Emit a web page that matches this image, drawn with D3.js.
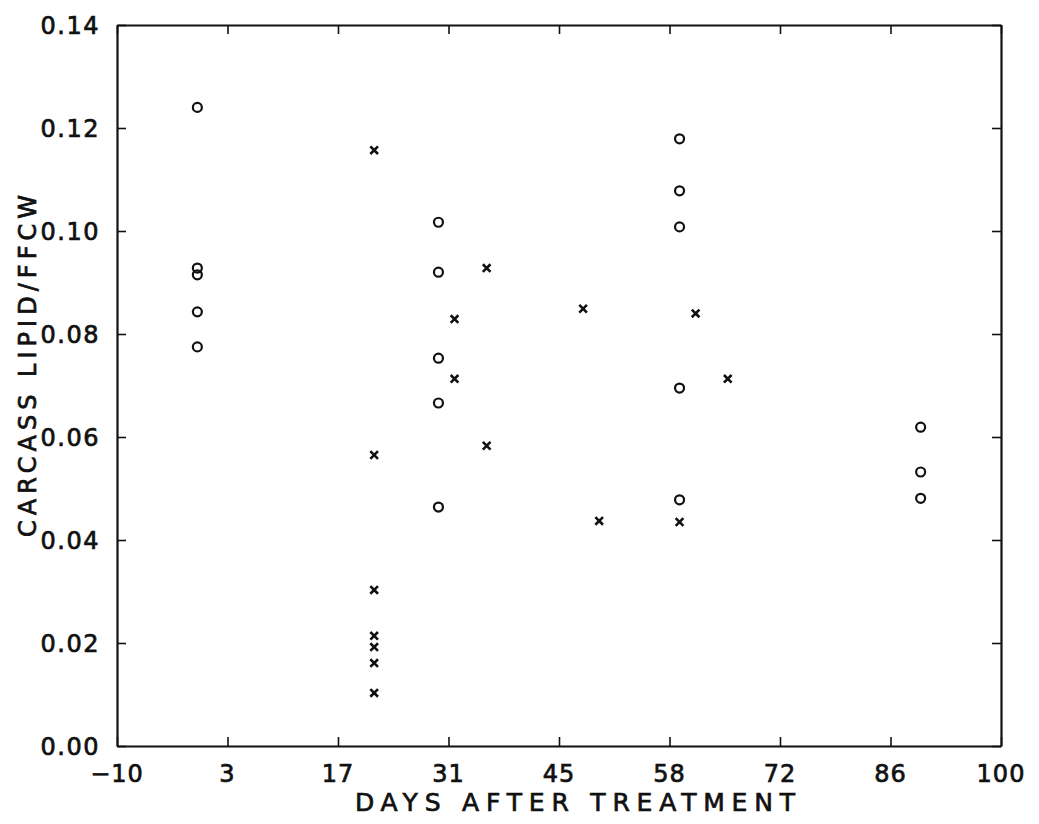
<!DOCTYPE html>
<html>
<head>
<meta charset="utf-8">
<script src="https://cdn.jsdelivr.net/npm/d3@7"></script>
<style>
    body { margin: 0; background: #fff; }
    svg { display: block; }
    text { font-family: "DejaVu Sans", sans-serif; fill: #111; stroke: #111; stroke-width: 0.7px; }
</style>
</head>
<body>
<svg id="chart" width="1039" height="824"></svg>
<script>
// data
const circleDays = [0, 0, 0, 0, 0, 30, 30, 30, 30, 30, 60, 60, 60, 60, 60, 90, 90, 90];
const circleValues = [0.124, 0.0928, 0.0915, 0.0843, 0.0775,
    0.1017, 0.092, 0.0753, 0.0666, 0.0464,
    0.1179, 0.1078, 0.1008, 0.0695, 0.0478,
    0.0619, 0.0532, 0.0481];

const crossDays = [22, 22, 22, 22, 22, 22, 22, 32, 32, 36, 36, 48, 50, 60, 62, 66];
const crossValues = [0.1157, 0.0565, 0.0303, 0.0214, 0.0192, 0.0161, 0.0103,
    0.0829, 0.0713, 0.0928, 0.0583, 0.0849, 0.0437, 0.0435, 0.084, 0.0713];

// the axis is linear -10..100, ticks every 13.75, labels truncated
const xTickValues = [-10, 3.75, 17.5, 31.25, 45, 58.75, 72.5, 86.25, 100];
const xTickLabels = ['\u221210', '3', '17', '31', '45', '58', '72', '86', '100'];
const yTickValues = [0, 0.02, 0.04, 0.06, 0.08, 0.10, 0.12, 0.14];

const xTitle = 'DAYS AFTER TREATMENT';
const yTitle = 'CARCASS LIPID/FFCW';

const margin = { left: 117, top: 25, right: 1001, bottom: 746 };
const svg = d3.select('#chart');
const ink = '#111';

const x = d3.scaleLinear().domain([-10, 100]).range([margin.left, margin.right]);
const y = d3.scaleLinear().domain([0, 0.14]).range([margin.bottom, margin.top]);

// frame + ticks (all inward)
const axes = [
    [d3.axisBottom(x), `translate(0,${margin.bottom})`, xTickValues],
    [d3.axisTop(x), `translate(0,${margin.top})`, xTickValues],
    [d3.axisLeft(y), `translate(${margin.left},0)`, yTickValues],
    [d3.axisRight(y), `translate(${margin.right},0)`, yTickValues],
];
axes.forEach(([ax, tr, vals]) => {
    const g = svg.append('g')
        .attr('transform', tr)
        .call(ax.tickValues(vals).tickSizeInner(-9).tickSizeOuter(0).tickFormat(''));
    g.select('.domain').attr('stroke', ink).attr('stroke-width', 2.2);
    g.selectAll('.tick line').attr('stroke', ink).attr('stroke-width', 1.6);
});

// tick labels
svg.append('g').selectAll('text')
    .data(xTickValues)
    .enter()
    .append('text')
    .attr('x', d => x(d))
    .attr('y', 782)
    .attr('text-anchor', 'middle')
    .style('font-size', '24px')
    .style('letter-spacing', '1px')
    .text((d, i) => xTickLabels[i]);

svg.append('g').selectAll('text')
    .data(yTickValues)
    .enter()
    .append('text')
    .attr('x', 100)
    .attr('y', d => y(d))
    .attr('dy', '0.36em')
    .attr('text-anchor', 'end')
    .style('font-size', '24px')
    .style('letter-spacing', '1.5px')
    .text(d => d.toFixed(2));

// axis titles
svg.append('text')
    .attr('x', 575)
    .attr('y', 811)
    .attr('text-anchor', 'middle')
    .attr('textLength', 440)
    .attr('lengthAdjust', 'spacing')
    .style('font-size', '25px')
    .text(xTitle);

svg.append('text')
    .attr('transform', 'translate(36,366) rotate(-90)')
    .attr('text-anchor', 'middle')
    .attr('textLength', 342)
    .attr('lengthAdjust', 'spacing')
    .style('font-size', '24px')
    .text(yTitle);

// markers
svg.append('g').selectAll('circle')
    .data(circleDays)
    .enter()
    .append('circle')
    .attr('cx', d => x(d))
    .attr('cy', (d, i) => y(circleValues[i]))
    .attr('r', 4.5)
    .attr('fill', 'none')
    .attr('stroke', ink)
    .attr('stroke-width', 2.2);

const cross = d3.symbol().type(d3.symbolX).size(40);
svg.append('g').selectAll('path')
    .data(crossDays)
    .enter()
    .append('path')
    .attr('transform', (d, i) => `translate(${x(d)},${y(crossValues[i])})`)
    .attr('d', cross)
    .attr('fill', 'none')
    .attr('stroke', ink)
    .attr('stroke-width', 2.6);
</script>
</body>
</html>
